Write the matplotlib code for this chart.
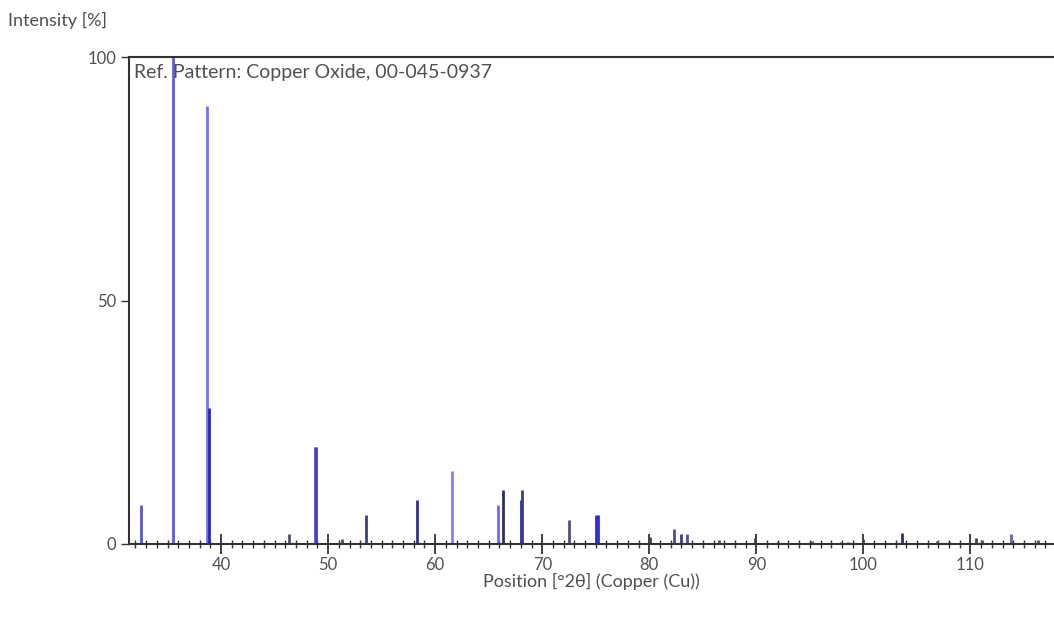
import numpy as np
import matplotlib
matplotlib.use("Agg")
import matplotlib.pyplot as plt
from matplotlib.ticker import MultipleLocator

# ------------------ Data ------------------
positions = [32.5, 35.5, 38.7, 38.9, 46.3, 48.75, 48.9, 51.3, 53.5, 58.3,
             61.6, 65.9, 66.3, 68.0, 68.1, 72.5, 75.0, 75.2, 80.1, 82.3,
             83.0, 83.5, 86.5, 89.9, 92.0, 95.2, 97.9, 98.6, 100.0, 103.6,
             106.9, 108.0, 110.5, 111.1, 113.8, 116.3]
intensities = [8, 100, 90, 28, 2, 20, 20, 1, 6, 9,
               15, 8, 11, 9, 11, 5, 6, 6, 1.5, 3,
               2, 2, 0.8, 1.2, 0.5, 0.6, 0.5, 0.5, 1.0, 2.3,
               0.6, 0.5, 1.2, 0.8, 2, 0.8]
colors = ['#5555dd', '#5a5aee', '#7070ff', '#2828b0', '#505070', '#5050e0', '#4040d0',
          '#505070', '#404080', '#303090', '#8080ff', '#6a6aff', '#303060', '#2020ff',
          '#404070', '#505080', '#3030d0', '#3030d0', '#404060', '#505080', '#404080',
          '#5050a0', '#505070', '#404060', '#505070', '#505070', '#505070', '#505070',
          '#404060', '#303070', '#505070', '#505070', '#404060', '#505070', '#6060c0',
          '#505070']

xticks = [40, 50, 60, 70, 80, 90, 100, 110]
yticks = [0, 50, 100]

title_text = "Ref. Pattern: Copper Oxide, 00-045-0937"
xlabel_text = "Position [°2θ] (Copper (Cu))"
ylabel_text = "Intensity [%]"

# ------------------ Plot ------------------
plt.rcParams['font.family'] = ['Lato', 'DejaVu Sans']
txt = '#505050'
spine = '#333333'

fig = plt.figure(figsize=(10.54, 6.23), dpi=100)
ax = fig.add_axes([129 / 1054, 79 / 623, 1 - 129 / 1054, (544 - 57) / 623])

ax.vlines(positions, 0, intensities, colors=colors, linewidth=2.0)

ax.set_xlim(31.4, 117.8)
ax.set_ylim(0, 100)

ax.set_xticks(xticks)
ax.xaxis.set_minor_locator(MultipleLocator(1))
ax.set_yticks(yticks)

ax.tick_params(axis='x', which='major', direction='inout', length=14, width=1.3,
               colors=spine, labelcolor=txt, labelsize=12, pad=2)
ax.tick_params(axis='x', which='minor', direction='inout', length=6, width=1.0, colors=spine)
ax.tick_params(axis='y', which='major', direction='out', length=6, width=1.0,
               colors=spine, labelcolor=txt, labelsize=12, pad=3)

for side in ['left', 'top', 'bottom']:
    ax.spines[side].set_color(spine)
    ax.spines[side].set_linewidth(1.5)
ax.spines['right'].set_visible(False)

ax.text(0.005, 0.985, title_text, transform=ax.transAxes, ha='left', va='top',
        fontsize=14, color=txt)

ax.set_xlabel(xlabel_text, fontsize=13, color=txt, labelpad=0)
fig.text(8 / 1054, 1 - 20 / 623, ylabel_text, ha='left', va='center',
         fontsize=13, color=txt)

fig.savefig('out.png', dpi=100)
